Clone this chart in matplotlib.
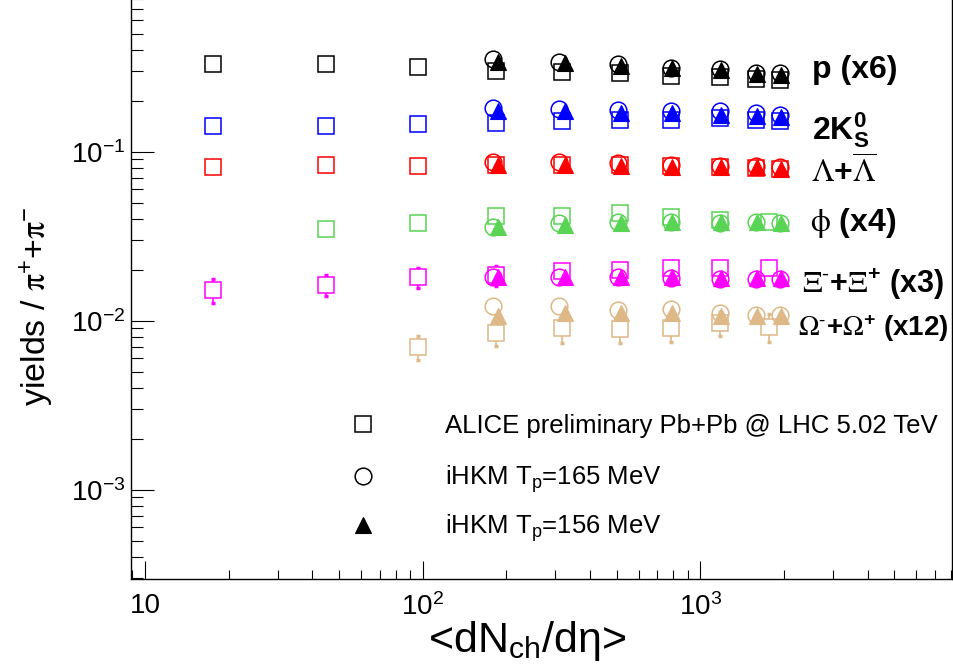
import numpy as np
import matplotlib.pyplot as plt
import matplotlib.ticker as ticker
from matplotlib.lines import Line2D

plt.rcParams['font.family'] = 'Liberation Sans'
plt.rcParams['mathtext.fontset'] = 'custom'
plt.rcParams['mathtext.rm'] = 'Liberation Sans'
plt.rcParams['mathtext.it'] = 'Liberation Sans:italic'
plt.rcParams['mathtext.bf'] = 'Liberation Sans:bold'
plt.rcParams['mathtext.default'] = 'regular'

# <dNch/deta> of the centrality classes
dn_all = [17.5, 44.9, 96.3, 183, 318, 512, 786, 1180, 1587, 1942]
dn_phi = [44.9, 96.3, 183, 318, 512, 786, 1180, 1765]
dn_xi = [17.5, 44.9, 96.3, 183, 318, 512, 786, 1180, 1765]
dn_om = [96.3, 183, 318, 512, 786, 1180, 1765]
dn_165 = [179, 310, 505, 786, 1180, 1587, 1942]
dn_156 = [187, 325, 518, 790, 1190, 1600, 1950]

# ALICE preliminary (already scaled as drawn)
alice_p = [0.330, 0.330, 0.318, 0.301, 0.297, 0.291, 0.281, 0.277, 0.268, 0.265]
alice_k = [0.142, 0.142, 0.146, 0.147, 0.153, 0.155, 0.155, 0.158, 0.154, 0.153]
alice_lam = [0.0812, 0.0838, 0.0823, 0.0831, 0.0831, 0.0831, 0.0826, 0.0812, 0.0797, 0.0790]
alice_phi = [0.0347, 0.0380, 0.0418, 0.0418, 0.0435, 0.0412, 0.0394, 0.0384]
alice_xi = [0.0152, 0.0163, 0.0181, 0.0186, 0.0197, 0.0200, 0.0205, 0.0205, 0.0206]
alice_xi_err = [0.0024, 0.0023, 0.0024, 0.0025, 0.0012, 0.0012, 0.0012, 0.0012, 0.0012]
alice_om = [0.00702, 0.00841, 0.00909, 0.00897, 0.00906, 0.00966, 0.00921]
alice_om_err = [0.00115, 0.0013, 0.00175, 0.0016, 0.00155, 0.00155, 0.0017]

# iHKM Tp=165 MeV
hkm165_p = [0.352, 0.341, 0.330, 0.315, 0.307, 0.291, 0.291]
hkm165_k = [0.181, 0.178, 0.177, 0.173, 0.173, 0.169, 0.165]
hkm165_lam = [0.0873, 0.0873, 0.0854, 0.0834, 0.0823, 0.0823, 0.0809]
hkm165_phi = [0.0360, 0.0380, 0.0382, 0.0382, 0.0380, 0.0382, 0.0377]
hkm165_xi = [0.0182, 0.0182, 0.0182, 0.0178, 0.0176, 0.0176, 0.0176]
hkm165_om = [0.0122, 0.0122, 0.0116, 0.0118, 0.0111, 0.0108, 0.0108]

# iHKM Tp=156 MeV
hkm156_p = [0.341, 0.333, 0.323, 0.311, 0.304, 0.288, 0.285]
hkm156_k = [0.173, 0.173, 0.170, 0.169, 0.165, 0.163, 0.160]
hkm156_lam = [0.0834, 0.0834, 0.0823, 0.0815, 0.0809, 0.0809, 0.0790]
hkm156_phi = [0.0360, 0.0368, 0.0377, 0.0386, 0.0386, 0.0386, 0.0380]
hkm156_xi = [0.0182, 0.0182, 0.0182, 0.0181, 0.0178, 0.0178, 0.0178]
hkm156_om = [0.0106, 0.0111, 0.0111, 0.0111, 0.0106, 0.0107, 0.0107]

colors = ['black', 'blue', 'red', '#59d454', 'magenta', '#deb887']

fig = plt.figure(figsize=(9.54, 6.68), dpi=100)
# frame top lies above the picture, as in the reference
ax = fig.add_axes([131/954, (668-579.3)/668, (951.7-131)/954, (579.3+13.5)/668])
ax.set_xscale('log')
ax.set_yscale('log')

alice = [(dn_all, alice_p, None), (dn_all, alice_k, None), (dn_all, alice_lam, None),
         (dn_phi, alice_phi, None), (dn_xi, alice_xi, alice_xi_err), (dn_om, alice_om, alice_om_err)]
m165 = [hkm165_p, hkm165_k, hkm165_lam, hkm165_phi, hkm165_xi, hkm165_om]
m156 = [hkm156_p, hkm156_k, hkm156_lam, hkm156_phi, hkm156_xi, hkm156_om]

ms = 12
for i in range(len(colors)):
    x, y, err = alice[i]
    c = colors[i]
    if err is not None:
        ax.errorbar(x, y, yerr=err, fmt='none', ecolor=c, elinewidth=1.2,
                    capsize=1.5, capthick=2.5, zorder=2)
    ax.plot(x, y, 's', ms=ms, mfc='white', mec=c, mew=1.1, zorder=3)
    ax.plot(dn_165, m165[i], 'o', ms=ms, mfc='none', mec=c, mew=1.1, zorder=4)
    ax.plot(dn_156, m156[i], '^', ms=11, mfc=c, mec=c, mew=0.8, zorder=5)

ax.set_xlim(8.9, 8040)
ax.set_ylim(2.95e-4, 0.95)

ax.xaxis.set_major_locator(ticker.FixedLocator([10, 100, 1000]))
ax.xaxis.set_major_formatter(ticker.FixedFormatter(['10', '$10^{2}$', '$10^{3}$']))
ax.xaxis.set_minor_locator(ticker.LogLocator(base=10, subs=np.arange(2, 10)))
ax.xaxis.set_minor_formatter(ticker.NullFormatter())
ax.yaxis.set_major_locator(ticker.LogLocator(base=10))
ax.yaxis.set_minor_locator(ticker.LogLocator(base=10, subs=np.arange(2, 10)))
ax.yaxis.set_minor_formatter(ticker.NullFormatter())

ax.tick_params(axis='x', which='major', direction='in', length=12.7, width=0.8, labelsize=20, pad=10)
ax.tick_params(axis='x', which='minor', direction='in', length=6.2, width=0.8)
ax.tick_params(axis='y', which='major', direction='in', length=16.8, width=0.8, labelsize=20, pad=4)
ax.tick_params(axis='y', which='minor', direction='in', length=8.4, width=0.8)
for s in ax.spines.values():
    s.set_linewidth(1.0)

fig.text(37/954, 1-306/668, 'yields / $\\mathrm{\\pi}^{+}$+$\\mathrm{\\pi}^{-}$', rotation=90,
         ha='center', va='center', fontsize=24.5, math_fontfamily='stix')
fig.text(527/954, 1-652/668, '<dN$_{ch}$/d$\\eta$>', ha='center', va='baseline', fontsize=31)

# species labels
lab_fs = 23
fig.text(812/954, 1-78/668, 'p (x6)', fontsize=lab_fs, fontweight='bold', va='baseline')
fig.text(812/954, 1-139/668, '2K$^{0}_{S}$', fontsize=lab_fs, fontweight='bold', va='baseline')
fig.text(811/954, 1-183/668, '$\\mathrm{\\Lambda}$+$\\mathrm{\\overline{\\Lambda}}$', fontsize=lab_fs,
         fontweight='bold', va='baseline', math_fontfamily='stix')
fig.text(810/954, 1-231/668, '$\\mathrm{\\phi}$ (x4)', fontsize=lab_fs, fontweight='bold',
         va='baseline', math_fontfamily='stix')
fig.text(802/954, 1-293/668, '$\\mathrm{\\Xi}^{\\text{-}}$+$\\mathrm{\\Xi}^{+}$ (x3)', fontsize=22,
         fontweight='bold', va='baseline', math_fontfamily='stix')
fig.text(798/954, 1-336/668, '$\\mathrm{\\Omega}^{\\text{-}}$+$\\mathrm{\\Omega}^{+}$ (x12)', fontsize=20,
         fontweight='bold', va='baseline', math_fontfamily='stix')

# legend, one row at a time so the rows are evenly spaced
leg_handles = [Line2D([], [], ls='none', marker='s', ms=ms, mfc='white', mec='black', mew=1.1),
               Line2D([], [], ls='none', marker='o', ms=ms, mfc='none', mec='black', mew=1.1),
               Line2D([], [], ls='none', marker='^', ms=11, mfc='black', mec='black', mew=0.8)]
leg_labels = ['ALICE preliminary Pb+Pb @ LHC 5.02 TeV', 'iHKM T$_{p}$=165 MeV', 'iHKM T$_{p}$=156 MeV']
leg_rows = [426, 479, 528]
for h, lab, yrow in zip(leg_handles, leg_labels, leg_rows):
    lg = fig.legend([h], [lab], loc='center left', bbox_to_anchor=(350/954, 1-yrow/668),
                    frameon=False, fontsize=18.5, handlelength=1.0, handletextpad=2.69,
                    borderpad=0, borderaxespad=0)

fig.savefig('out.png', dpi=100)
